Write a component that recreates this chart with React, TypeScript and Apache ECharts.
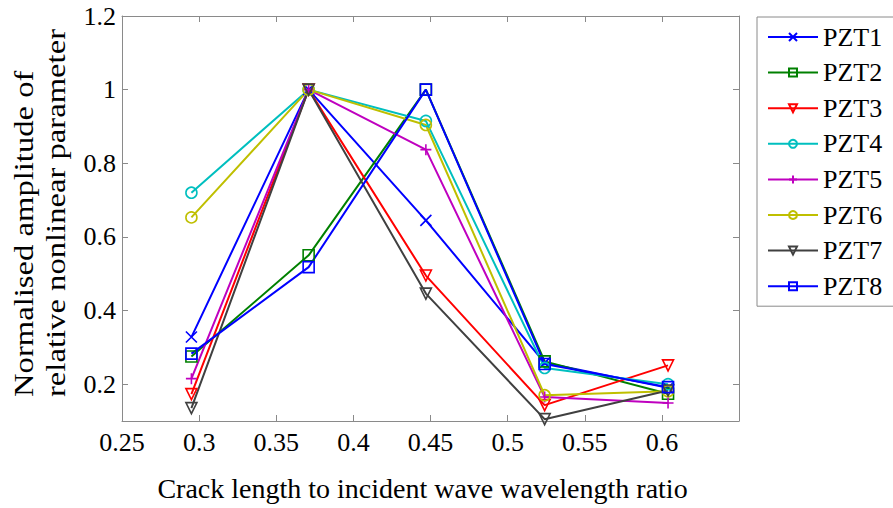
import React, { useEffect, useRef } from 'react';
import * as echarts from 'echarts';

const ratios = [0.295, 0.371, 0.447, 0.524, 0.604];
const pzt1 = [0.328, 1.0, 0.645, 0.258, 0.19];
const pzt2 = [0.275, 0.55, 1.0, 0.262, 0.174];
const pzt3 = [0.173, 1.0, 0.495, 0.143, 0.251];
const pzt4 = [0.72, 1.0, 0.915, 0.244, 0.2];
const pzt5 = [0.215, 1.0, 0.837, 0.165, 0.149];
const pzt6 = [0.653, 1.0, 0.904, 0.17, 0.181];
const pzt7 = [0.135, 1.0, 0.446, 0.105, 0.183];
const pzt8 = [0.283, 0.518, 1.0, 0.255, 0.192];

const seriesNames = ['PZT1', 'PZT2', 'PZT3', 'PZT4', 'PZT5', 'PZT6', 'PZT7', 'PZT8'];
const seriesValues = [pzt1, pzt2, pzt3, pzt4, pzt5, pzt6, pzt7, pzt8];
const seriesColors = ['#0000FF', '#008000', '#FF0000', '#00BFBF', '#BF00BF', '#BFBF00', '#404040', '#0000FF'];

const X_SYM = 'path://M0,0L10,10M10,0L0,10';
const PLUS_SYM = 'path://M5,0L5,10M0,5L10,5';
const SQ_SYM = 'path://M0,0L10,0L10,10L0,10Z';
const TRI_DOWN = 'path://M0,0L10,0L5,8.66Z';
const seriesSymbols = [X_SYM, SQ_SYM, TRI_DOWN, 'circle', PLUS_SYM, 'circle', TRI_DOWN, SQ_SYM];

const xTicks = [0.25, 0.3, 0.35, 0.4, 0.45, 0.5, 0.55, 0.6];
const yTicks = [0.2, 0.4, 0.6, 0.8, 1.0, 1.2];
const xTitle = 'Crack length to incident wave wavelength ratio';
const yTitle1 = 'Normalised amplitude of';
const yTitle2 = 'relative nonlinear parameter';

const FONT = 'Liberation Serif';
const LABEL_FONT = 'Times New Roman';
const AXIS_GRAY = '#8a8a8a';

const fmt = (v: number) => String(+Number(v).toFixed(2));

export default function App() {
  const ref = useRef<HTMLDivElement>(null);
  useEffect(() => {
    if (!ref.current) return;
    const chart = echarts.init(ref.current, undefined, { renderer: 'svg' });
    const xMin = 0.25, xMax = 0.65, yMin = 0.1, yMax = 1.2;
    const baseAxisLine = { show: true, onZero: false, lineStyle: { color: AXIS_GRAY, width: 1 } };
    const tick = (vals: number[]) => ({ show: true, inside: true, length: 6, customValues: vals, lineStyle: { color: AXIS_GRAY, width: 1 } });
    const option: any = {
      animation: false,
      backgroundColor: '#ffffff',
      textStyle: { fontFamily: FONT },
      grid: { left: 122, right: 154, top: 16, bottom: 87, containLabel: false },
      xAxis: [
        {
          type: 'value', min: xMin, max: xMax, position: 'bottom',
          axisLine: baseAxisLine,
          axisTick: tick(xTicks),
          splitLine: { show: false },
          axisLabel: { customValues: xTicks, formatter: fmt, fontFamily: LABEL_FONT, fontSize: 26, color: '#000', margin: 8 },
          name: xTitle, nameLocation: 'middle', nameGap: 53,
          nameTextStyle: { fontFamily: FONT, fontSize: 28, color: '#000', padding: [0, 16, 0, 0] },
        },
        {
          type: 'value', min: xMin, max: xMax, position: 'top',
          axisLine: baseAxisLine, axisTick: tick(xTicks.slice(1)), axisLabel: { show: false }, splitLine: { show: false },
        },
      ],
      yAxis: [
        {
          type: 'value', min: yMin, max: yMax, position: 'left',
          axisLine: baseAxisLine,
          axisTick: tick(yTicks),
          splitLine: { show: false },
          axisLabel: { customValues: yTicks, formatter: fmt, fontFamily: LABEL_FONT, fontSize: 26, color: '#000', margin: 6 },
        },
        {
          type: 'value', min: yMin, max: yMax, position: 'right',
          axisLine: baseAxisLine, axisTick: tick(yTicks), axisLabel: { show: false }, splitLine: { show: false },
        },
      ],
      legend: {
        orient: 'vertical', left: 757, top: 17,
        padding: [7, 30, 7, 10], itemGap: 9.6, itemWidth: 50, itemHeight: 10,
        borderColor: AXIS_GRAY, borderWidth: 1, backgroundColor: '#fff',
        textStyle: { fontFamily: LABEL_FONT, fontSize: 26, lineHeight: 26, color: '#000' },
        data: seriesNames,
      },
      graphic: [
        {
          type: 'text', x: 23.5, y: 397, rotation: Math.PI / 2, scaleX: 1.21,
          style: { text: yTitle1, fontFamily: FONT, fontSize: 27, fill: '#000', textAlign: 'left', textVerticalAlign: 'middle' },
        },
        {
          type: 'text', x: 55.5, y: 397, rotation: Math.PI / 2, scaleX: 1.21,
          style: { text: yTitle2, fontFamily: FONT, fontSize: 27, fill: '#000', textAlign: 'left', textVerticalAlign: 'middle' },
        },
      ],
      series: seriesNames.map((name, i) => ({
        name,
        type: 'line',
        data: ratios.map((x, j) => [x, seriesValues[i][j]]),
        symbol: seriesSymbols[i],
        symbolSize: 11,
        showAllSymbol: true,
        lineStyle: { color: seriesColors[i], width: 2 },
        itemStyle: { color: 'rgba(0,0,0,0)', borderColor: seriesColors[i], borderWidth: 1.6 },
        emphasis: { disabled: true },
      })),
    };
    chart.setOption(option);
    return () => chart.dispose();
  }, []);
  return <div ref={ref} style={{ position: 'fixed', left: 0, top: 0, width: 893, height: 508 }} />;
}
